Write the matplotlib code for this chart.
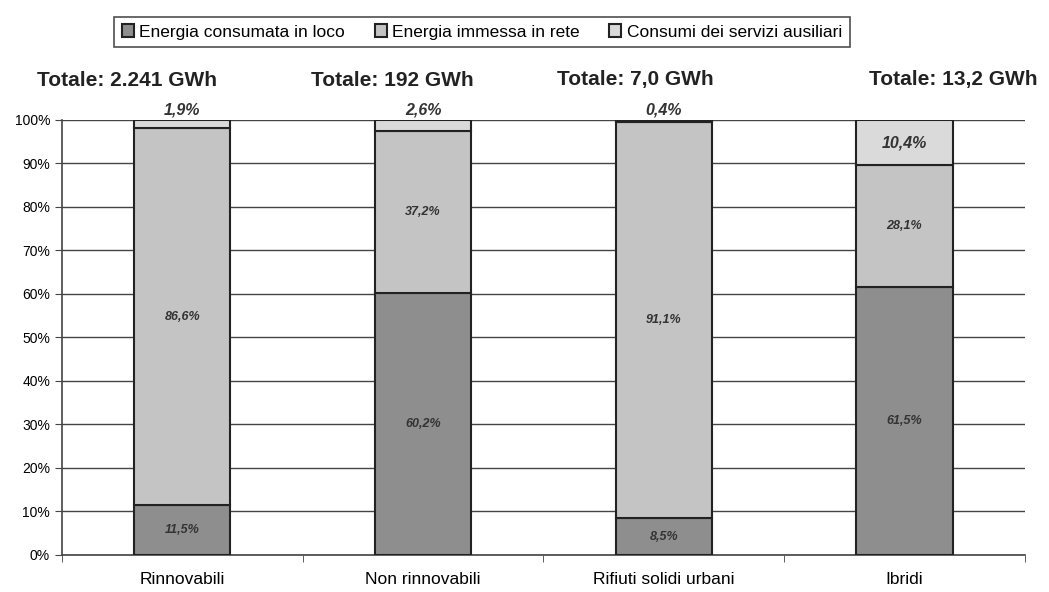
import matplotlib
matplotlib.use("Agg")
import matplotlib.pyplot as plt
import numpy as np

categories = ["Rinnovabili", "Non rinnovabili", "Rifiuti solidi urbani", "Ibridi"]
totals = ["Totale: 2.241 GWh", "Totale: 192 GWh", "Totale: 7,0 GWh", "Totale: 13,2 GWh"]
consumata = [11.5, 60.2, 8.5, 61.5]
immessa = [86.6, 37.2, 91.1, 28.1]
ausiliari = [1.9, 2.6, 0.4, 10.4]
series_names = ["Energia consumata in loco", "Energia immessa in rete", "Consumi dei servizi ausiliari"]
colors = ["#8e8e8e", "#c4c4c4", "#dadada"]

plt.rcParams['font.family'] = ['Liberation Sans', 'DejaVu Sans']

fig = plt.figure(figsize=(10.49, 5.92), dpi=100)
ax = fig.add_axes([0.059, 0.0625, 0.918, 0.735])

x = np.arange(len(categories))
w = 0.4
bottoms = np.zeros(len(categories))
handles = []
for vals, col, name in zip([consumata, immessa, ausiliari], colors, series_names):
    h = ax.bar(x, vals, w, bottom=bottoms, color=col, edgecolor="#222222", linewidth=1.5, label=name, zorder=3)
    handles.append(h)
    bottoms = bottoms + np.array(vals)

def fmt(v):
    return f"{v:.1f}".replace(".", ",") + "%"

for i in range(len(categories)):
    ax.text(x[i], consumata[i] / 2, fmt(consumata[i]), ha="center", va="center",
            fontsize=9, fontweight="bold", style="italic", color="#333333", zorder=4)
    ax.text(x[i], consumata[i] + immessa[i] / 2, fmt(immessa[i]), ha="center", va="center",
            fontsize=9, fontweight="bold", style="italic", color="#333333", zorder=4)
    if ausiliari[i] < 5:
        ax.text(x[i], 100.6, fmt(ausiliari[i]), ha="center", va="bottom",
                fontsize=11.5, fontweight="bold", style="italic", color="#333333", zorder=4)
    else:
        ax.text(x[i], consumata[i] + immessa[i] + ausiliari[i] / 2, fmt(ausiliari[i]), ha="center", va="center",
                fontsize=11.5, fontweight="bold", style="italic", color="#333333", zorder=4)

# totals placed in figure coordinates as in the reference layout
total_x = [127, 392, 635, 953]
for tx, t in zip(total_x, totals):
    fig.text(tx / 1049, 1 - 80 / 592, t, ha="center", va="center", fontsize=15, fontweight="bold", color="#222222")

ax.set_xlim(-0.5, len(categories) - 0.5)
ax.set_ylim(0, 100)
ax.set_yticks(np.arange(0, 101, 10))
ax.set_yticklabels([f"{v}%" for v in range(0, 101, 10)], fontsize=10)
ax.yaxis.grid(True, color="#444444", linewidth=1.0, zorder=0)
ax.set_axisbelow(True)
ax.set_xticks(x)
ax.set_xticklabels(categories, fontsize=12.5)
ax.tick_params(axis="x", length=0, pad=12)
ax.set_xticks(np.arange(-0.5, len(categories), 1), minor=True)
ax.tick_params(axis="x", which="minor", length=5, direction="out", color="#444444")
ax.tick_params(axis="y", length=5, color="#444444")
for s in ["top", "right"]:
    ax.spines[s].set_visible(False)
ax.spines["left"].set_color("#444444")
ax.spines["bottom"].set_color("#444444")
ax.spines["left"].set_linewidth(1.2)
ax.spines["bottom"].set_linewidth(1.2)

leg = fig.legend(handles=handles, labels=series_names, loc="center", ncol=3,
                 bbox_to_anchor=(482 / 1049, 1 - 32 / 592), fontsize=12.5, frameon=True, fancybox=False,
                 edgecolor="#222222", handlelength=0.7, handleheight=0.7, handletextpad=0.3,
                 columnspacing=1.7, borderpad=0.45, borderaxespad=0)
leg.get_frame().set_linewidth(1.2)

fig.savefig("out.png", dpi=100)
